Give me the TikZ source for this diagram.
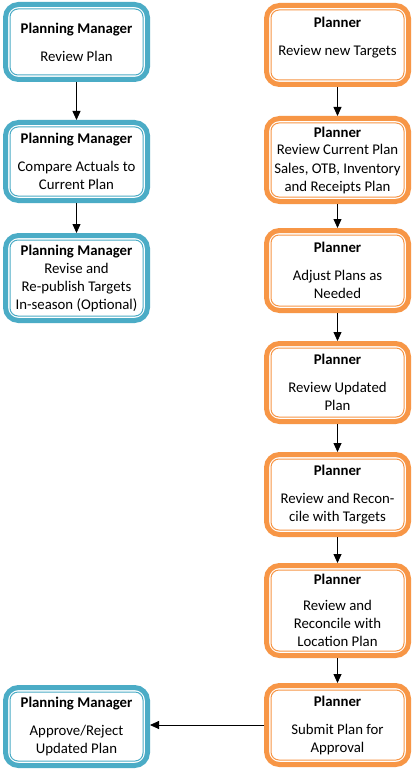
\documentclass[tikz,border=0pt]{standalone}
\usepackage{fontspec}
\setmainfont{Carlito}
\usetikzlibrary{arrows.meta}
\definecolor{pmblue}{HTML}{4BACC6}
\definecolor{plorange}{HTML}{F79646}
\tikzset{
  flowbox/.style={draw=#1, line width=5pt, rounded corners=13pt,
    minimum width=142pt, inner sep=0pt, align=center,
    font=\fontsize{14.8}{18}\selectfont, text=black,
    append after command={\pgfextra{\draw[#1, line width=1pt, rounded corners=8pt]
      ([shift={(7pt,7pt)}]\tikzlastnode.south west) rectangle
      ([shift={(-7pt,-7pt)}]\tikzlastnode.north east);}}},
  mgr/.style={flowbox=pmblue},
  plnr/.style={flowbox=plorange},
  conn/.style={-{Triangle[width=8pt,length=9pt]}, line width=0.8pt, black}
}
\begin{document}
\begin{tikzpicture}[x=1pt,y=-1pt]
\useasboundingbox[fill=white] (0,0) rectangle (419,770);
% Planning Manager column
\node[mgr, minimum height=75pt] (l1) at (76.5,42) {\textbf{Planning Manager}\\[10pt]Review Plan};
\node[mgr, minimum height=78pt] (l2) at (76.5,161.5) {\textbf{Planning Manager}\\[10pt]Compare Actuals to\\Current Plan};
\node[mgr, minimum height=85pt] (l3) at (76.5,278) {\textbf{Planning Manager}\\Revise and\\Re-publish Targets\\In-season (Optional)};
\node[mgr, minimum height=78pt] (l4) at (76.5,726.5) {\textbf{Planning Manager}\\[10pt]Approve/Reject\\Updated Plan};
% Planner column
\node[plnr, minimum height=79pt] (r1) at (337.5,45) {\textbf{Planner}\\[10pt]Review new Targets\\\mbox{}};
\node[plnr, minimum height=83pt] (r2) at (337.5,160) {\textbf{Planner}\\Review Current Plan\\Sales, OTB, Inventory\\and Receipts Plan};
\node[plnr, minimum height=80pt] (r3) at (337.5,270.5) {\textbf{Planner}\\[10pt]Adjust Plans as\\Needed};
\node[plnr, minimum height=78pt] (r4) at (337.5,382.5) {\textbf{Planner}\\[10pt]Review Updated\\Plan};
\node[plnr, minimum height=80pt] (r5) at (337.5,494.5) {\textbf{Planner}\\[10pt]Review and Recon-\\cile with Targets};
\node[plnr, minimum height=90pt] (r6) at (337.5,610.5) {\textbf{Planner}\\[8pt]Review and\\Reconcile with\\Location Plan};
\node[plnr, minimum height=79pt] (r7) at (337.5,725) {\textbf{Planner}\\[10pt]Submit Plan for\\Approval};
% connectors
\draw[conn] (l1) -- (l2);
\draw[conn] (l2) -- (l3);
\draw[conn] (r1) -- (r2);
\draw[conn] (r2) -- (r3);
\draw[conn] (r3) -- (r4);
\draw[conn] (r4) -- (r5);
\draw[conn] (r5) -- (r6);
\draw[conn] (r6) -- (r7);
\draw[conn] (r7.west) -- (r7.west -| l4.east);
\end{tikzpicture}
\end{document}
